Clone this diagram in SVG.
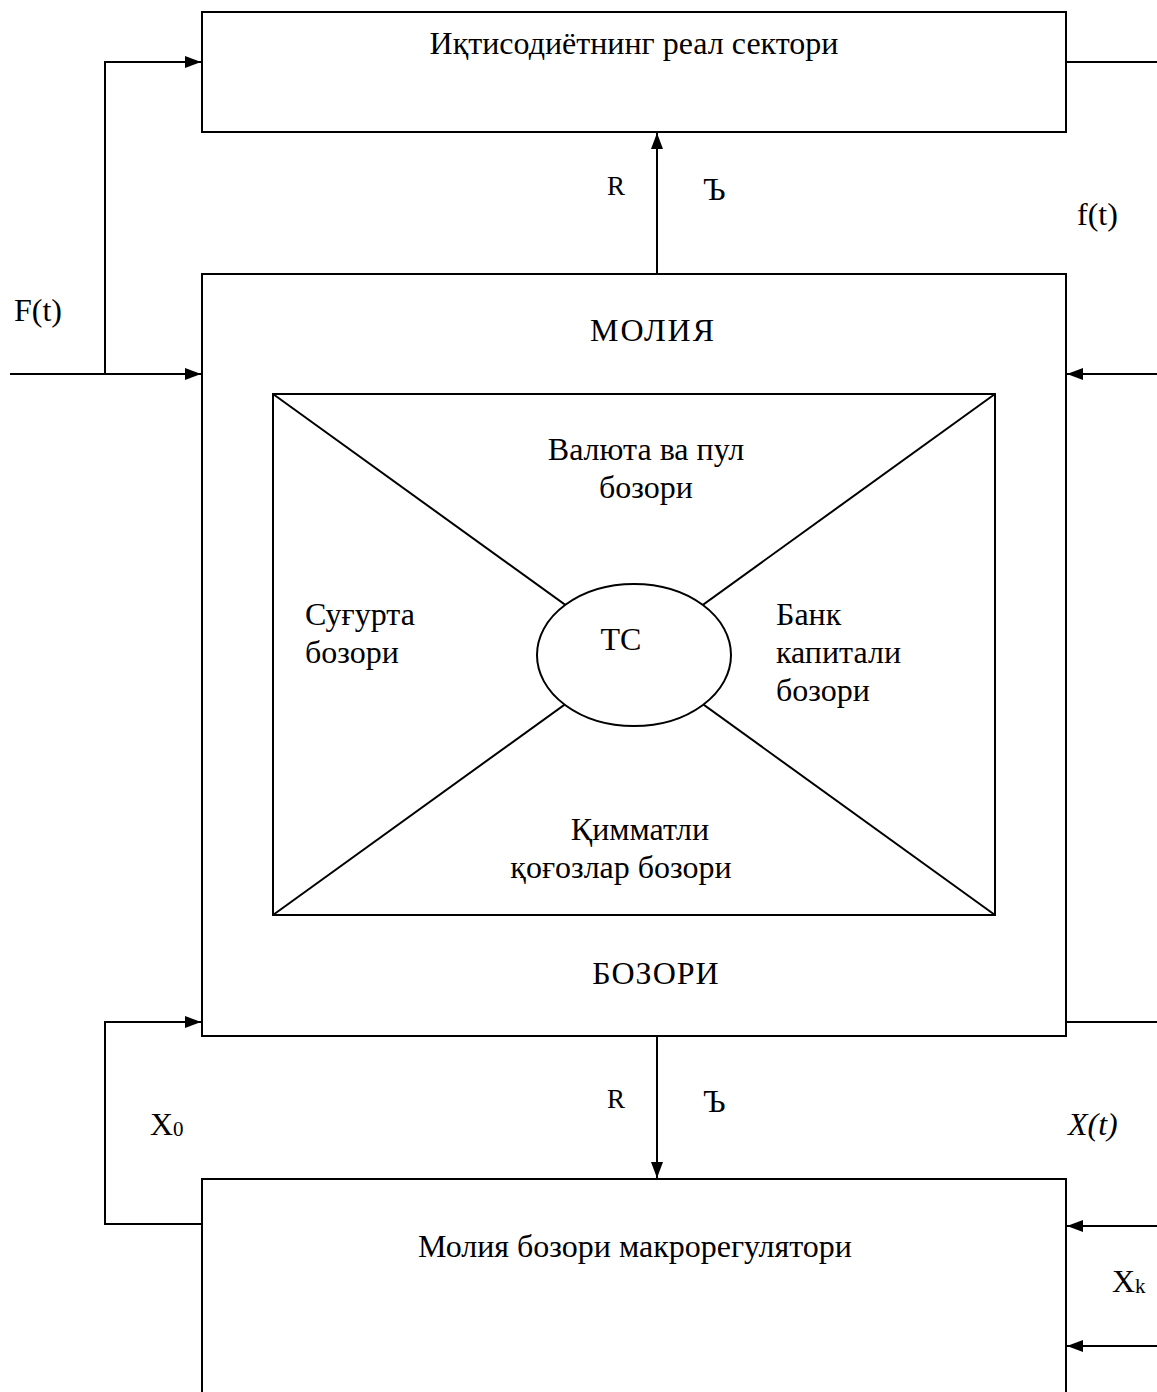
<svg xmlns="http://www.w3.org/2000/svg" width="1157" height="1392" viewBox="0 0 1157 1392">
  <style>
    .box { fill: #ffffff; stroke: #000000; stroke-width: 2; }
    .ln { fill: none; stroke: #000000; stroke-width: 2; }
    text { font-family: "Liberation Serif", "Times New Roman", serif; font-size: 32px; fill: #000000; }
    .c { text-anchor: middle; }
    .sm { font-size: 27px; }
    .it { font-style: italic; }
  </style>
  <defs>
    <marker id="arr" viewBox="0 0 16 12" refX="16" refY="6" markerWidth="16" markerHeight="12" markerUnits="userSpaceOnUse" orient="auto">
      <path d="M0,0 L16,6 L0,12 Z" fill="#000000"/>
    </marker>
  </defs>

  <rect width="1157" height="1392" fill="#ffffff"/>

  <g id="connectors">
    <!-- F(t) input, split to the real sector and to the market -->
    <path class="ln" d="M10,374 H201" marker-end="url(#arr)"/>
    <path class="ln" d="M105,374 V62 H201" marker-end="url(#arr)"/>
    <!-- f(t) feedback on the right side -->
    <path class="ln" d="M1066,62 H1157"/>
    <path class="ln" d="M1157,374 H1067" marker-end="url(#arr)"/>
    <!-- market to real sector -->
    <path class="ln" d="M657,274 V133" marker-end="url(#arr)"/>
    <!-- market to regulator -->
    <path class="ln" d="M657,1036 V1178" marker-end="url(#arr)"/>
    <!-- X0 loop from regulator back to the market -->
    <path class="ln" d="M202,1224 H105 V1022 H201" marker-end="url(#arr)"/>
    <!-- X(t) output and Xk inputs -->
    <path class="ln" d="M1066,1022 H1157"/>
    <path class="ln" d="M1157,1226 H1067" marker-end="url(#arr)"/>
    <path class="ln" d="M1157,1346 H1067" marker-end="url(#arr)"/>
  </g>

  <g id="real-sector">
    <rect class="box" x="202" y="12" width="864" height="120"/>
    <text class="c" x="634" y="54">Иқтисодиётнинг реал сектори</text>
  </g>

  <g id="financial-market">
    <rect class="box" x="202" y="274" width="864" height="762"/>
    <text class="c" x="653" y="341" letter-spacing="2">МОЛИЯ</text>
    <text class="c" x="656" y="984" letter-spacing="1">БОЗОРИ</text>
  </g>

  <g id="market-segments">
    <rect class="box" x="273" y="394" width="722" height="521"/>
    <line class="ln" x1="273" y1="394" x2="995" y2="915"/>
    <line class="ln" x1="995" y1="394" x2="273" y2="915"/>
    <text class="c" x="646" y="460">Валюта ва пул</text>
    <text class="c" x="646" y="498">бозори</text>
    <text x="305" y="625">Суғурта</text>
    <text x="305" y="663">бозори</text>
    <text x="776" y="625">Банк</text>
    <text x="776" y="663">капитали</text>
    <text x="776" y="701">бозори</text>
    <text class="c" x="640" y="840">Қимматли</text>
    <text class="c" x="621" y="878">қоғозлар бозори</text>
  </g>

  <g id="tc">
    <ellipse class="box" cx="634" cy="655" rx="97" ry="71"/>
    <text class="c" x="621" y="650">ТС</text>
  </g>

  <g id="regulator">
    <rect class="box" x="202" y="1179" width="864" height="230"/>
    <text class="c" x="635" y="1257">Молия бозори макрорегулятори</text>
  </g>

  <g id="labels">
    <text class="sm" x="607" y="195">R</text>
    <text x="703" y="200">Ъ</text>
    <text class="sm" x="607" y="1108">R</text>
    <text x="703" y="1112">Ъ</text>
    <text x="14" y="321">F(t)</text>
    <text x="1077" y="225">f(t)</text>
    <text x="150" y="1135">X<tspan font-size="21" dy="1">0</tspan></text>
    <text class="it" x="1068" y="1135">X(t)</text>
    <text x="1112" y="1292">X<tspan font-size="21" dy="1">k</tspan></text>
  </g>
</svg>
